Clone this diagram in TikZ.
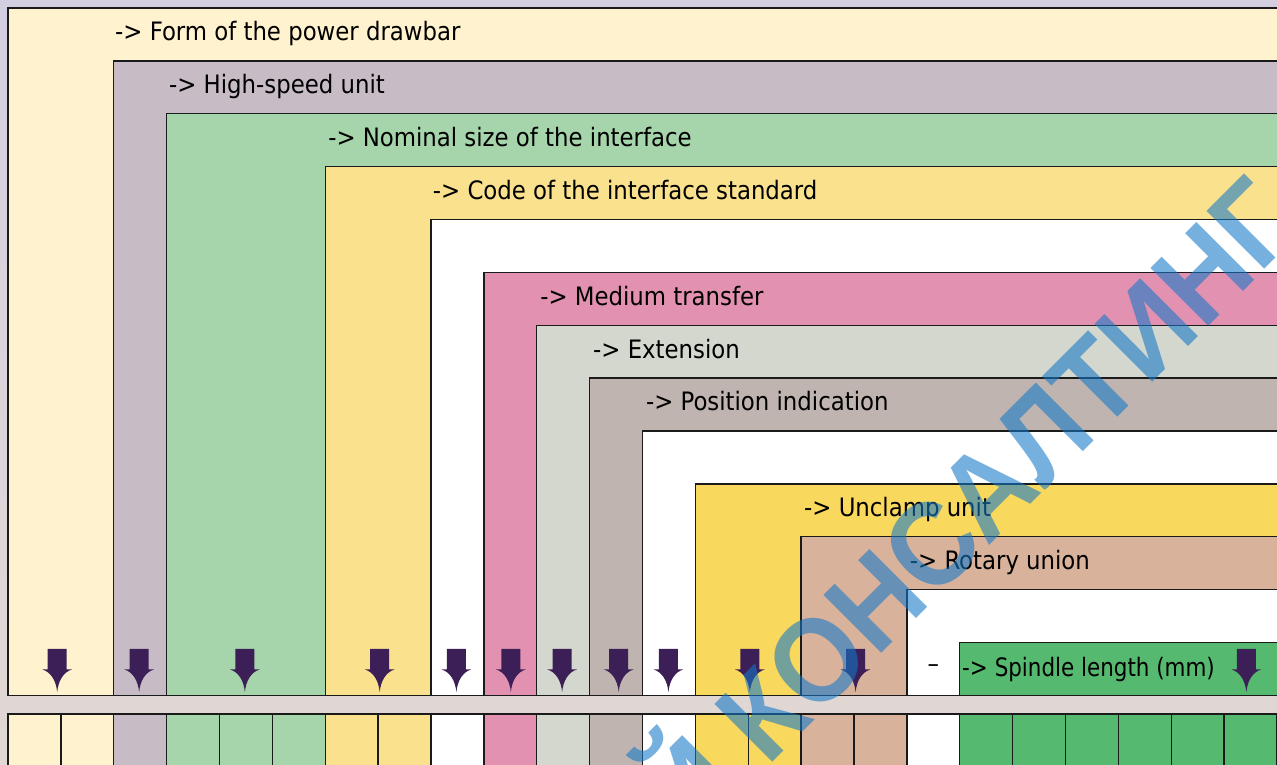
\documentclass[tikz,border=0pt]{standalone}
\usepackage{fontspec}
\setmainfont{DejaVu Sans Condensed}
\newfontfamily\wmfont{Liberation Sans}
\definecolor{bgtop}{HTML}{D4CEE1}
\definecolor{bgbot}{HTML}{E1D8D4}
\definecolor{cream}{HTML}{FFF2CF}
\definecolor{mauve}{HTML}{C7BCC6}
\definecolor{leaf}{HTML}{A6D5AB}
\definecolor{straw}{HTML}{FAE18E}
\definecolor{rose}{HTML}{E292B0}
\definecolor{sage}{HTML}{D3D7CD}
\definecolor{taupe}{HTML}{BFB4AF}
\definecolor{gold}{HTML}{F9D85E}
\definecolor{tan}{HTML}{D9B29C}
\definecolor{grass}{HTML}{55BA70}
\definecolor{plum}{HTML}{3B1F56}
\definecolor{wmblue}{HTML}{1478C8}
\definecolor{edge}{HTML}{1A1A1A}
\tikzset{
  box/.style={draw=edge,line width=0.7pt},
  lbl/.style={anchor=base west,inner sep=0pt,font=\fontsize{13.65}{16}\selectfont},
  wm/.style={font=\wmfont\bfseries\fontsize{64}{70}\selectfont,text=wmblue,text opacity=0.58,inner sep=0pt}
}
\begin{document}
\begin{tikzpicture}[x=1cm,y=-1cm]
\pgfmathsetmacro{\m}{8/52.9}
\pgfmathsetmacro{\bot}{765/52.9-\m}
\pgfmathsetmacro{\aw}{0.18}
\pgfmathsetmacro{\ah}{0.28}
\useasboundingbox (-\m,-\m) rectangle (24,\bot);
\clip (-\m,-\m) rectangle (24,\bot);
%background
\shade[top color=bgtop,bottom color=bgbot] (-\m,-\m) rectangle (24,\bot);
%nested boxes
\draw[box,fill=cream] (0,0) rectangle (25,13);
\draw[box,fill=mauve] (2,1) rectangle (25,13);
\draw[box,fill=leaf] (3,2) rectangle (25,13);
\draw[box,fill=straw] (6,3) rectangle (25,13);
\draw[box,fill=white] (8,4) rectangle (25,13);
\draw[box,fill=rose] (9,5) rectangle (25,13);
\draw[box,fill=sage] (10,6) rectangle (25,13);
\draw[box,fill=taupe] (11,7) rectangle (25,13);
\draw[box,fill=white] (12,8) rectangle (25,13);
\draw[box,fill=gold] (13,9) rectangle (25,13);
\draw[box,fill=tan] (15,10) rectangle (25,13);
\draw[box,fill=white] (17,11) rectangle (25,13);
\draw[box,fill=grass] (18,12) rectangle (25,13);
%labels
\node[lbl] (drawbar) at (2.02,0.62) {-> Form of the power drawbar};
\node[lbl] (highspeed) at (3.04,1.62) {-> High-speed unit};
\node[lbl] (nomsize) at (6.05,2.62) {-> Nominal size of the interface};
\node[lbl] (code) at (8.03,3.62) {-> Code of the interface standard};
\node[lbl] (medium) at (10.06,5.62) {-> Medium transfer};
\node[lbl] (extension) at (11.06,6.62) {-> Extension};
\node[lbl] (position) at (12.06,7.62) {-> Position indication};
\node[lbl] (unclamp) at (15.05,9.62) {-> Unclamp unit};
\node[lbl] (rotary) at (17.05,10.62) {-> Rotary union};
\node[lbl,xscale=0.94] (spindle) at (18.04,12.64) {-> Spindle length (mm)};
\node[lbl,anchor=base] (sep) at (17.5,12.56) {–};
%arrows
\foreach \ax in {0.93,2.48,4.48,7.03,8.48,9.51,10.48,11.55,12.49,14.03,16.03,23.42}{
  \fill[plum] (\ax-\aw,12.12) -- (\ax+\aw,12.12) -- (\ax+\aw,12.51) -- (\ax+\ah,12.51)
    .. controls (\ax+0.12,12.56) and (\ax+0.02,12.72) .. (\ax,12.94)
    .. controls (\ax-0.02,12.72) and (\ax-0.12,12.56) .. (\ax-\ah,12.51) -- (\ax-\aw,12.51) -- cycle;
}
%code cells
\foreach \c [count=\i from 0] in {cream,cream,mauve,leaf,leaf,leaf,straw,straw,white,rose,sage,taupe,white,gold,gold,tan,tan,white,grass,grass,grass,grass,grass,grass}{
  \draw[box,fill=\c] (\i,13.35) rectangle (\i+1,15);
}
%watermark
\node[wm,rotate=45,xscale=0.93,anchor=base east] (wmark) at (24.52,4.20) {Й КОНСАЛТИНГ};
\end{tikzpicture}
\end{document}
